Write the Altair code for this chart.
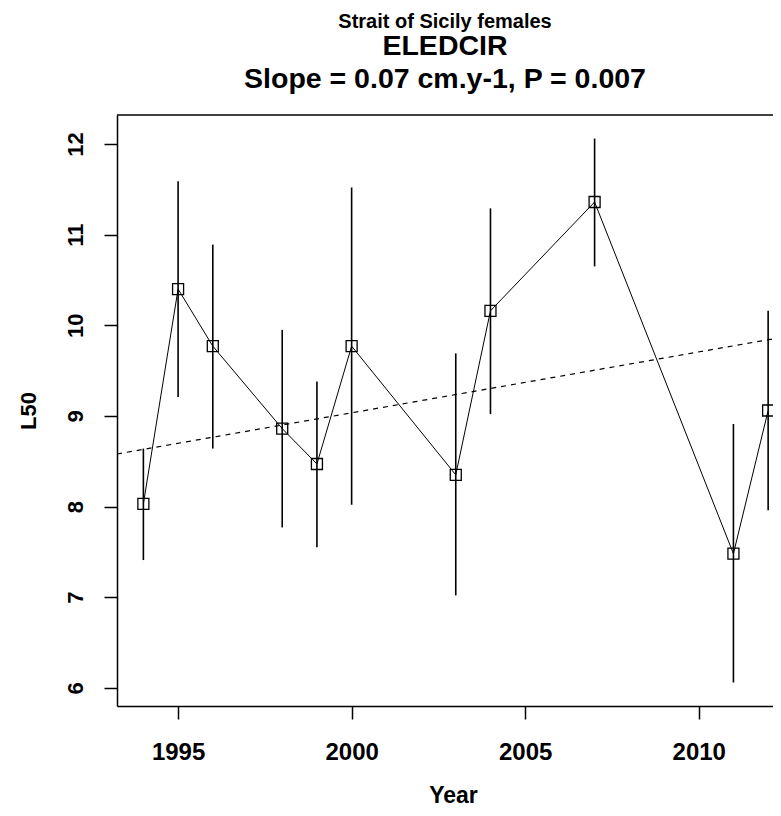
import altair as alt
import pandas as pd

# ---- data ----
years = [1994, 1995, 1996, 1998, 1999, 2000, 2003, 2004, 2007, 2011, 2012]
l50 = [8.03, 10.40, 9.77, 8.86, 8.47, 9.77, 8.35, 10.16, 11.36, 7.48, 9.06]
lower = [7.41, 9.21, 8.64, 7.77, 7.55, 8.02, 7.02, 9.02, 10.65, 6.06, 7.96]
upper = [8.64, 11.59, 10.89, 9.95, 9.38, 11.52, 9.69, 11.29, 12.06, 8.91, 10.16]

trend_years = [1993.24, 2012.14]
trend_l50 = [8.58, 9.85]

x_ticks = [1995, 2000, 2005, 2010]
y_ticks = [6, 7, 8, 9, 10, 11, 12]
x_domain = [1993.24, 2012.14]
y_domain = [5.80, 12.32]

title_top = "Strait of Sicily females"
title_lines = ["ELEDCIR", "Slope = 0.07 cm.y-1, P = 0.007"]

W, H = 656, 591
FONT = "Liberation Sans"

df = pd.DataFrame({"Year": years, "L50": l50, "lo": lower, "hi": upper})
trend = pd.DataFrame({"Year": trend_years, "L50": trend_l50})

xscale = alt.Scale(domain=x_domain, nice=False, zero=False)
yscale = alt.Scale(domain=y_domain, nice=False, zero=False)

common_axis = dict(
    grid=False, tickSize=13, tickWidth=1.5, tickColor="black",
    domainColor="black", domainWidth=1.5, labelFont=FONT,
    labelFontWeight="bold", labelColor="black", labelFlush=False,
    labelOverlap=False, titleFont=FONT, titleFontWeight="bold",
    titleColor="black", titleAlign="center", titleBaseline="alphabetic",
)

xaxis = alt.Axis(
    values=x_ticks, format="d", title="Year", labelFontSize=24,
    labelBaseline="alphabetic", labelPadding=40, titleFontSize=23,
    titleX=336, titleY=96, **common_axis,
)
yaxis = alt.Axis(
    values=y_ticks, format="d", title="L50", labelFontSize=22,
    labelAngle=270, labelAlign="center", labelBaseline="alphabetic",
    labelPadding=22, titleFontSize=22, titleAngle=270,
    titleX=-82, titleY=H / 2, **common_axis,
)

X = alt.X("Year:Q", scale=xscale, axis=xaxis)
Y = alt.Y("L50:Q", scale=yscale, axis=yaxis)

bars = alt.Chart(df).mark_rule(color="black", strokeWidth=1.6).encode(
    x=X, y=alt.Y("lo:Q", scale=yscale, axis=yaxis), y2="hi:Q"
)
line = alt.Chart(df).mark_line(color="black", strokeWidth=1).encode(x=X, y=Y)
points = alt.Chart(df).mark_point(
    shape="square", filled=False, size=121, color="black",
    strokeWidth=1.3, opacity=1,
).encode(x=X, y=Y)
trend_line = alt.Chart(trend).mark_line(
    color="black", strokeDash=[5, 5], strokeWidth=1.2
).encode(x=X, y=Y)
top_border = alt.Chart(pd.DataFrame({"a": [0]})).mark_rule(
    color="black", strokeWidth=1.5
).encode(x=alt.value(0), x2=alt.value(W), y=alt.value(0))

chart = alt.layer(trend_line, bars, line, points, top_border).properties(
    width=W,
    height=H,
    autosize=alt.AutoSizeParams(type="none"),
    padding={"left": 109, "top": 107, "right": 0, "bottom": 102},
    background="white",
    title=alt.TitleParams(
        text=title_top,
        subtitle=title_lines,
        font=FONT, fontSize=20, fontWeight="bold", color="black",
        subtitleFont=FONT, subtitleFontSize=28.5, subtitleFontWeight="bold",
        subtitleColor="black", subtitleLineHeight=33, subtitlePadding=-0.7,
        anchor="middle", frame="group", offset=21,
    ),
).configure_view(stroke=None)

chart.save("out.html", embed_options={"renderer": "svg", "actions": False})
